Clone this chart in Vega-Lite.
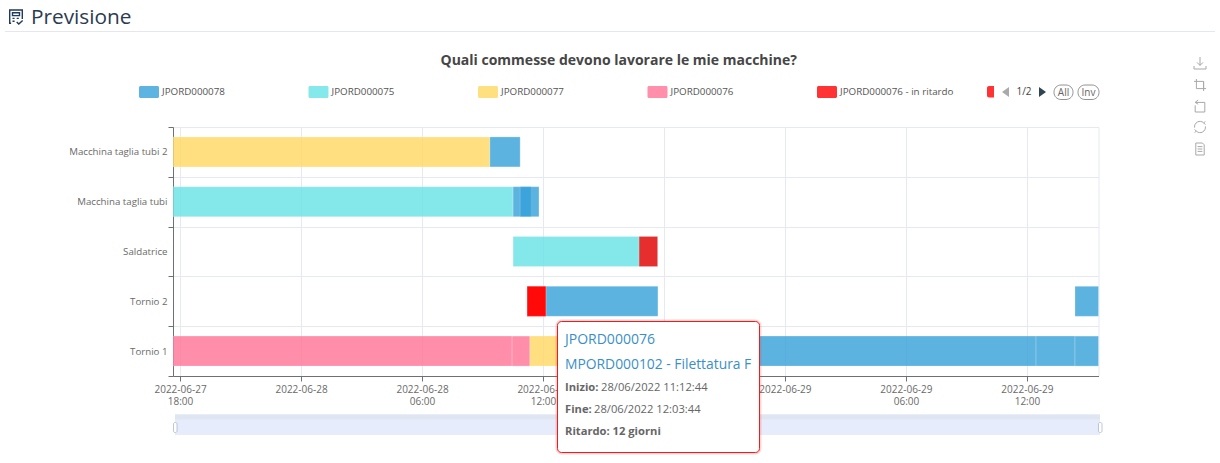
{"$schema":"https://vega.github.io/schema/vega-lite/v6.json","width":925.5,"height":249,"autosize":{"type":"none"},"padding":{"left":173,"top":127,"right":121.5,"bottom":87},"background":"#ffffff","config":{"font":"Open Sans","view":{"stroke":"#e6e9f5"}},"title":{"text":"Quali commesse devono lavorare le mie macchine?","font":"Open Sans","fontSize":14,"fontWeight":"bold","color":"#464646","anchor":"middle","frame":"group","dx":-17,"offset":-61},
"layer":[{"data":{"values":[
{"machine":"Macchina taglia tubi 2","job":"JPORD000077","start":"2022-06-27T17:39:00","end":"2022-06-28T09:22:00"},
{"machine":"Macchina taglia tubi 2","job":"JPORD000078","start":"2022-06-28T09:22:00","end":"2022-06-28T10:52:00"},
{"machine":"Macchina taglia tubi","job":"JPORD000075","start":"2022-06-27T17:39:00","end":"2022-06-28T10:31:00"},
{"machine":"Macchina taglia tubi","job":"JPORD000078","start":"2022-06-28T10:31:00","end":"2022-06-28T11:24:00"},
{"machine":"Macchina taglia tubi","job":"JPORD000078","start":"2022-06-28T10:52:00","end":"2022-06-28T11:48:00"},
{"machine":"Saldatrice","job":"JPORD000075","start":"2022-06-28T10:31:00","end":"2022-06-28T17:41:00"},
{"machine":"Saldatrice","job":"JPORD000076 - in ritardo","start":"2022-06-28T16:46:00","end":"2022-06-28T17:41:00"},
{"machine":"Tornio 2","job":"JPORD000076 - in ritardo","start":"2022-06-28T11:12:44","end":"2022-06-28T12:09:00"},
{"machine":"Tornio 2","job":"JPORD000076 - in ritardo","start":"2022-06-28T11:12:44","end":"2022-06-28T12:09:00"},
{"machine":"Tornio 2","job":"JPORD000078","start":"2022-06-28T12:09:00","end":"2022-06-28T17:42:00"},
{"machine":"Tornio 2","job":"JPORD000078","start":"2022-06-29T14:23:00","end":"2022-06-29T15:33:00"},
{"machine":"Tornio 1","job":"JPORD000076","start":"2022-06-27T17:39:00","end":"2022-06-28T10:28:00"},
{"machine":"Tornio 1","job":"JPORD000076","start":"2022-06-28T10:28:00","end":"2022-06-28T11:21:00"},
{"machine":"Tornio 1","job":"JPORD000077","start":"2022-06-28T11:21:00","end":"2022-06-28T14:50:00"},
{"machine":"Tornio 1","job":"JPORD000078","start":"2022-06-28T14:50:00","end":"2022-06-29T12:27:00"},
{"machine":"Tornio 1","job":"JPORD000078","start":"2022-06-29T12:27:00","end":"2022-06-29T14:23:00"},
{"machine":"Tornio 1","job":"JPORD000078","start":"2022-06-29T14:23:00","end":"2022-06-29T15:33:00"}
]},"mark":{"type":"bar","height":30,"opacity":0.8,"stroke":"#ffffff","strokeWidth":1,"strokeOpacity":0.22},"encoding":{
"x":{"field":"start","type":"temporal","title":null,"scale":{"domain":[{"year":2022,"month":6,"date":27,"hours":17,"minutes":39},{"year":2022,"month":6,"date":29,"hours":15,"minutes":33}]},"axis":{"values":[{"year":2022,"month":6,"date":27,"hours":18},{"year":2022,"month":6,"date":28,"hours":0},{"year":2022,"month":6,"date":28,"hours":6},{"year":2022,"month":6,"date":28,"hours":12},{"year":2022,"month":6,"date":28,"hours":18},{"year":2022,"month":6,"date":29,"hours":0},{"year":2022,"month":6,"date":29,"hours":6},{"year":2022,"month":6,"date":29,"hours":12}],"labelExpr":"hours(datum.value)==0?timeFormat(datum.value,'%Y-%m-%d'):[timeFormat(datum.value,'%Y-%m-%d'),timeFormat(datum.value,'%H:%M')]","labelFontSize":10,"labelColor":"#6a6a6a","labelFont":"Open Sans","labelPadding":3,"labelOverlap":false,"labelFlush":false,"tickColor":"#6e7079","tickSize":5,"domainColor":"#6e7079","gridColor":"#e6e9f5","grid":true}},
"x2":{"field":"end"},
"y":{"field":"machine","type":"nominal","title":null,"sort":["Macchina taglia tubi 2","Macchina taglia tubi","Saldatrice","Tornio 2","Tornio 1"],"scale":{"paddingInner":0,"paddingOuter":0},"axis":{"tickBand":"extent","grid":true,"gridColor":"#e6e9f5","labelFontSize":9.7,"labelColor":"#6a6a6a","labelFont":"Open Sans","labelPadding":1,"labelLimit":200,"tickColor":"#6e7079","tickSize":5,"domainColor":"#6e7079"}},
"color":{"field":"job","type":"nominal","scale":{"domain":["JPORD000078","JPORD000075","JPORD000077","JPORD000076","JPORD000076 - in ritardo"],"range":["#35A1D9","#66E2E5","#FFD860","#FF7396","#FF0000"]},"legend":{"title":null,"orient":"none","legendX":-34,"legendY":-45,"direction":"horizontal","columns":5,"columnPadding":83.5,"symbolType":"M-0.85,-0.6H0.85A0.15,0.15,0,0,1,1,-0.45V0.45A0.15,0.15,0,0,1,0.85,0.6H-0.85A0.15,0.15,0,0,1,-1,0.45V-0.45A0.15,0.15,0,0,1,-0.85,-0.6Z","symbolSize":400,"symbolStrokeWidth":0,"labelFontSize":9.8,"labelFont":"Open Sans","labelColor":"#555555","labelOffset":3,"labelLimit":200}}}},
{"data":{"values":[{}]},"layer":[
{"mark":{"type":"text","text":"Previsione","align":"left","baseline":"middle","fontSize":20.8,"font":"Open Sans","color":"#2a3b52"},"encoding":{"x":{"datum":31,"scale":{"domain":[173,1098.5]},"axis":null},"y":{"datum":18,"scale":{"domain":[376,127]},"axis":null}}},
{"mark":{"type":"rule","stroke":"#e4e7ed","strokeWidth":1},"encoding":{"x":{"datum":5,"scale":{"domain":[173,1098.5]},"axis":null},"x2":{"datum":1215},"y":{"datum":31.5,"scale":{"domain":[376,127]},"axis":null}}},
{"mark":{"type":"point","filled":false,"stroke":"#1f3a5f","strokeWidth":1.4,"opacity":1,"size":196,"shape":"M-0.7,0.9H-0.9V-1H0.9V0.3M-0.5,-0.6H0.5V-0.2H-0.5ZM-0.5,0.2H-0.2M0.1,0.2H0.4M-0.5,0.6H-0.2M0.1,0.7L0.4,1L0.95,0.5"},"encoding":{"x":{"datum":16,"scale":{"domain":[173,1098.5]},"axis":null},"y":{"datum":17,"scale":{"domain":[376,127]},"axis":null}}},
{"mark":{"type":"point","filled":false,"stroke":"#a8a8a8","strokeWidth":1,"opacity":1,"size":144,"shape":"M0,-1V0.4M-0.5,-0.1L0,0.4L0.5,-0.1M-1,0.5V1H1V0.5"},"encoding":{"x":{"datum":1200,"scale":{"domain":[173,1098.5]},"axis":null},"y":{"datum":63,"scale":{"domain":[376,127]},"axis":null}}},
{"mark":{"type":"point","filled":false,"stroke":"#a8a8a8","strokeWidth":1,"opacity":1,"size":144,"shape":"M-0.6,-1V0.6H1M-1,-0.6H0.6V1M0.6,0.6V-0.6"},"encoding":{"x":{"datum":1200,"scale":{"domain":[173,1098.5]},"axis":null},"y":{"datum":85,"scale":{"domain":[376,127]},"axis":null}}},
{"mark":{"type":"point","filled":false,"stroke":"#a8a8a8","strokeWidth":1,"opacity":1,"size":144,"shape":"M-0.3,-1L-0.8,-0.6L-0.3,-0.3M-0.8,-0.6H0.8V1H-0.8V-0.1"},"encoding":{"x":{"datum":1200,"scale":{"domain":[173,1098.5]},"axis":null},"y":{"datum":106,"scale":{"domain":[376,127]},"axis":null}}},
{"mark":{"type":"point","filled":false,"stroke":"#a8a8a8","strokeWidth":1,"opacity":1,"size":144,"shape":"M-0.9,0.1A0.9,0.9,0,0,1,0.6,-0.7L0.9,-0.9M0.6,-0.7L0.9,-0.4M0.9,-0.1A0.9,0.9,0,0,1,-0.6,0.7L-0.9,0.9M-0.6,0.7L-0.9,0.4"},"encoding":{"x":{"datum":1200,"scale":{"domain":[173,1098.5]},"axis":null},"y":{"datum":127,"scale":{"domain":[376,127]},"axis":null}}},
{"mark":{"type":"point","filled":false,"stroke":"#a8a8a8","strokeWidth":1,"opacity":1,"size":144,"shape":"M-0.7,-1H0.4L0.7,-0.7V1H-0.7ZM-0.4,-0.4H0.4M-0.4,0H0.4M-0.4,0.4H0.4"},"encoding":{"x":{"datum":1200,"scale":{"domain":[173,1098.5]},"axis":null},"y":{"datum":149,"scale":{"domain":[376,127]},"axis":null}}},
{"mark":{"type":"rect","fill":"#ff3333","cornerRadiusTopLeft":2,"cornerRadiusBottomLeft":2},"encoding":{"x":{"datum":987,"scale":{"domain":[173,1098.5]},"axis":null},"x2":{"datum":994},"y":{"datum":86,"scale":{"domain":[376,127]},"axis":null},"y2":{"datum":97.5}}},
{"mark":{"type":"point","filled":true,"fill":"#aaaaaa","opacity":1,"size":100,"shape":"M0.7,-1V1L-0.7,0Z"},"encoding":{"x":{"datum":1005.5,"scale":{"domain":[173,1098.5]},"axis":null},"y":{"datum":92,"scale":{"domain":[376,127]},"axis":null}}},
{"mark":{"type":"point","filled":true,"fill":"#2f4554","opacity":1,"size":100,"shape":"M-0.7,-1V1L0.7,0Z"},"encoding":{"x":{"datum":1042.5,"scale":{"domain":[173,1098.5]},"axis":null},"y":{"datum":92,"scale":{"domain":[376,127]},"axis":null}}},
{"mark":{"type":"text","text":"1/2","align":"center","baseline":"middle","fontSize":10,"color":"#444444"},"encoding":{"x":{"datum":1024,"scale":{"domain":[173,1098.5]},"axis":null},"y":{"datum":92,"scale":{"domain":[376,127]},"axis":null}}},
{"mark":{"type":"rect","fill":"#ffffff","stroke":"#777777","strokeWidth":0.8,"cornerRadius":7},"encoding":{"x":{"datum":1054,"scale":{"domain":[173,1098.5]},"axis":null},"x2":{"datum":1073},"y":{"datum":85,"scale":{"domain":[376,127]},"axis":null},"y2":{"datum":99.5}}},
{"mark":{"type":"rect","fill":"#ffffff","stroke":"#777777","strokeWidth":0.8,"cornerRadius":7},"encoding":{"x":{"datum":1078,"scale":{"domain":[173,1098.5]},"axis":null},"x2":{"datum":1099},"y":{"datum":85,"scale":{"domain":[376,127]},"axis":null},"y2":{"datum":99.5}}},
{"mark":{"type":"text","text":"All","align":"center","baseline":"middle","fontSize":10,"color":"#666666"},"encoding":{"x":{"datum":1063.5,"scale":{"domain":[173,1098.5]},"axis":null},"y":{"datum":92.5,"scale":{"domain":[376,127]},"axis":null}}},
{"mark":{"type":"text","text":"Inv","align":"center","baseline":"middle","fontSize":10,"color":"#666666"},"encoding":{"x":{"datum":1088.5,"scale":{"domain":[173,1098.5]},"axis":null},"y":{"datum":92.5,"scale":{"domain":[376,127]},"axis":null}}},
{"mark":{"type":"rect","fill":"#e6ecfb"},"encoding":{"x":{"datum":175,"scale":{"domain":[173,1098.5]},"axis":null},"x2":{"datum":1100},"y":{"datum":414.5,"scale":{"domain":[376,127]},"axis":null},"y2":{"datum":435}}},
{"mark":{"type":"rect","fill":"#dfe6f2"},"encoding":{"x":{"datum":175,"scale":{"domain":[173,1098.5]},"axis":null},"x2":{"datum":1100},"y":{"datum":414.5,"scale":{"domain":[376,127]},"axis":null},"y2":{"datum":419.5}}},
{"mark":{"type":"rect","fill":"#ffffff","stroke":"#acb8d1","strokeWidth":0.8,"cornerRadius":1.5},"encoding":{"x":{"datum":173.5,"scale":{"domain":[173,1098.5]},"axis":null},"x2":{"datum":177},"y":{"datum":422.5,"scale":{"domain":[376,127]},"axis":null},"y2":{"datum":432.5}}},
{"mark":{"type":"rect","fill":"#ffffff","stroke":"#acb8d1","strokeWidth":0.8,"cornerRadius":1.5},"encoding":{"x":{"datum":1098.5,"scale":{"domain":[173,1098.5]},"axis":null},"x2":{"datum":1102},"y":{"datum":422.5,"scale":{"domain":[376,127]},"axis":null},"y2":{"datum":432.5}}},
{"mark":{"type":"rect","fill":"#ffffff","stroke":"#ff3333","strokeOpacity":0.2,"strokeWidth":4,"cornerRadius":4},"encoding":{"x":{"datum":557.5,"scale":{"domain":[173,1098.5]},"axis":null},"x2":{"datum":759.5},"y":{"datum":321.5,"scale":{"domain":[376,127]},"axis":null},"y2":{"datum":452.5}}},
{"mark":{"type":"rect","fill":"#ffffff","stroke":"#f01c1c","strokeWidth":1,"cornerRadius":4},"encoding":{"x":{"datum":557.5,"scale":{"domain":[173,1098.5]},"axis":null},"x2":{"datum":759.5},"y":{"datum":321.5,"scale":{"domain":[376,127]},"axis":null},"y2":{"datum":452.5}}},
{"mark":{"type":"text","text":"JPORD000076","align":"left","baseline":"middle","fontSize":14,"color":"#3a8fc8"},"encoding":{"x":{"datum":565,"scale":{"domain":[173,1098.5]},"axis":null},"y":{"datum":340,"scale":{"domain":[376,127]},"axis":null}}},
{"mark":{"type":"text","text":"MPORD000102 - Filettatura F","align":"left","baseline":"middle","fontSize":13.85,"color":"#3a8fc8"},"encoding":{"x":{"datum":565,"scale":{"domain":[173,1098.5]},"axis":null},"y":{"datum":365,"scale":{"domain":[376,127]},"axis":null}}},
{"mark":{"type":"text","text":"Inizio:","align":"left","baseline":"middle","fontSize":11.2,"fontWeight":"bold","color":"#666666"},"encoding":{"x":{"datum":565,"scale":{"domain":[173,1098.5]},"axis":null},"y":{"datum":388,"scale":{"domain":[376,127]},"axis":null}}},
{"mark":{"type":"text","text":"28/06/2022 11:12:44","align":"left","baseline":"middle","fontSize":11.2,"color":"#666666"},"encoding":{"x":{"datum":601,"scale":{"domain":[173,1098.5]},"axis":null},"y":{"datum":388,"scale":{"domain":[376,127]},"axis":null}}},
{"mark":{"type":"text","text":"Fine:","align":"left","baseline":"middle","fontSize":11.2,"fontWeight":"bold","color":"#666666"},"encoding":{"x":{"datum":565,"scale":{"domain":[173,1098.5]},"axis":null},"y":{"datum":410,"scale":{"domain":[376,127]},"axis":null}}},
{"mark":{"type":"text","text":"28/06/2022 12:03:44","align":"left","baseline":"middle","fontSize":11.2,"color":"#666666"},"encoding":{"x":{"datum":594,"scale":{"domain":[173,1098.5]},"axis":null},"y":{"datum":410,"scale":{"domain":[376,127]},"axis":null}}},
{"mark":{"type":"text","text":"Ritardo: 12 giorni","align":"left","baseline":"middle","fontSize":11.2,"fontWeight":"bold","color":"#666666"},"encoding":{"x":{"datum":565,"scale":{"domain":[173,1098.5]},"axis":null},"y":{"datum":432,"scale":{"domain":[376,127]},"axis":null}}}
]}],"resolve":{"scale":{"x":"independent","y":"independent","color":"independent"},"axis":{"x":"independent","y":"independent"}}}
